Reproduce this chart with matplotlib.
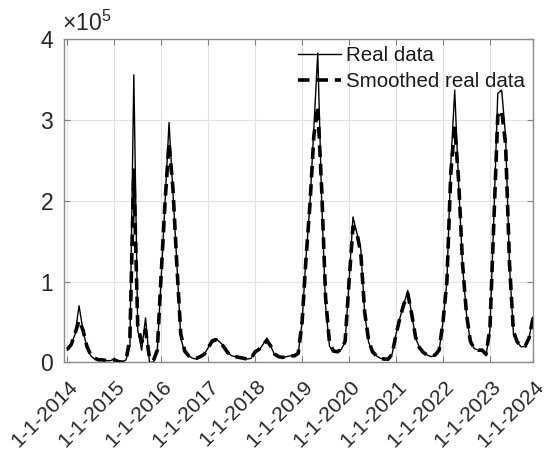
import numpy as np
import matplotlib
matplotlib.use("Agg")
import matplotlib.pyplot as plt
from matplotlib.transforms import ScaledTranslation

# Monthly values (in thousands), Jan 2014 .. Dec 2023
real_k = [15, 22, 35, 70, 40, 18, 8, 4, 3, 3, 2, 2,
          4, 1, 0, 3, 20, 356, 40, 15, 55, 0, 0, 15,
          105, 200, 297, 210, 122, 30, 12, 8, 5, 4, 7, 10,
          18, 28, 29, 25, 20, 12, 8, 7, 6, 5, 4, 5,
          14, 15, 22, 30, 20, 9, 7, 6, 7, 8, 8, 10,
          50, 130, 195, 290, 383, 200, 70, 20, 13, 13, 16, 25,
          100, 180, 160, 140, 60, 25, 12, 8, 5, 4, 3, 10,
          35, 55, 72, 89, 60, 30, 18, 12, 9, 7, 9, 14,
          50, 100, 245, 337, 220, 120, 60, 25, 17, 15, 16, 8,
          40, 180, 333, 337, 280, 120, 36, 25, 19, 20, 30, 56]

smoothed_k = [16, 22, 36, 52, 40, 20, 9, 5, 3, 3, 2, 2,
              3, 1, 0, 2, 30, 238, 45, 25, 40, 5, 2, 15,
              110, 200, 272, 215, 120, 35, 14, 8, 5, 5, 7, 10,
              18, 26, 28, 25, 19, 12, 8, 7, 6, 5, 4, 5,
              13, 16, 22, 27, 20, 10, 7, 6, 7, 8, 8, 11,
              50, 128, 195, 280, 317, 215, 80, 24, 14, 13, 16, 26,
              100, 168, 160, 135, 62, 27, 13, 8, 5, 4, 4, 10,
              34, 55, 72, 85, 60, 31, 18, 12, 9, 8, 9, 15,
              50, 100, 235, 292, 225, 122, 60, 26, 17, 15, 15, 10,
              42, 175, 305, 312, 270, 122, 38, 25, 20, 20, 30, 55]

tick_labels = ["1-1-2014", "1-1-2015", "1-1-2016", "1-1-2017", "1-1-2018",
               "1-1-2019", "1-1-2020", "1-1-2021", "1-1-2022", "1-1-2023",
               "1-1-2024"]
tick_months = [0, 12, 24, 36, 48, 60, 72, 84, 96, 108, 119]

plt.rcParams['font.family'] = ['Liberation Sans', 'DejaVu Sans']
plt.rcParams['mathtext.fontset'] = 'custom'
plt.rcParams['mathtext.rm'] = 'Liberation Sans'

real = np.array(real_k) * 1e3
smoothed = np.array(smoothed_k) * 1e3
months = np.arange(len(real))

fig = plt.figure(figsize=(5.48, 4.54), dpi=100)
ax = fig.add_axes([0.1173, 0.202, 0.9726 - 0.1173, 0.9134 - 0.202])

ax.plot(months, real, color='black', lw=1.0, label='Real data', zorder=3)
ax.plot(months, smoothed, color='black', lw=2.6, ls=(0, (3.2, 1.9)),
        label='Smoothed real data', zorder=2)

ax.set_xlim(-0.77, 119)
ax.set_ylim(0, 4e5)
ax.set_xticks(tick_months)
ax.set_xticklabels([])
lab_trans = ax.get_xaxis_transform() + ScaledTranslation(8 / 100, -21 / 100,
                                                         fig.dpi_scale_trans)
for m, lab in zip(tick_months, tick_labels):
    ax.text(m, 0, lab, transform=lab_trans, rotation=45, ha='right',
            va='center', rotation_mode='anchor', fontsize=15.3,
            color='#262626', clip_on=False)

ax.set_yticks([0, 1e5, 2e5, 3e5, 4e5])
ax.set_yticklabels(['0', '1', '2', '3', '4'], fontsize=16.5, color='#262626')
ax.tick_params(axis='both', direction='in', length=4, width=0.8,
               color='#808080', top=True, right=True)
ax.tick_params(axis='y', pad=8)

ax.grid(True, color='#e2e2e2', lw=0.8, zorder=0)
ax.set_axisbelow(True)
for s in ax.spines.values():
    s.set_color('#8a8a8a')
    s.set_linewidth(1.0)

ax.text(-0.004, 1.012, r'$\times\mathregular{10^5}$', transform=ax.transAxes,
        ha='left', va='bottom', fontsize=16.5, color='#262626')

leg = ax.legend(loc='upper left', bbox_to_anchor=(0.49, 0.992), frameon=False,
                fontsize=14.8, handlelength=2.1, handletextpad=0.25,
                borderaxespad=0.0, borderpad=0.2, labelspacing=0.33)
for t in leg.get_texts():
    t.set_color('#1a1a1a')

fig.savefig('out.png', dpi=100)
